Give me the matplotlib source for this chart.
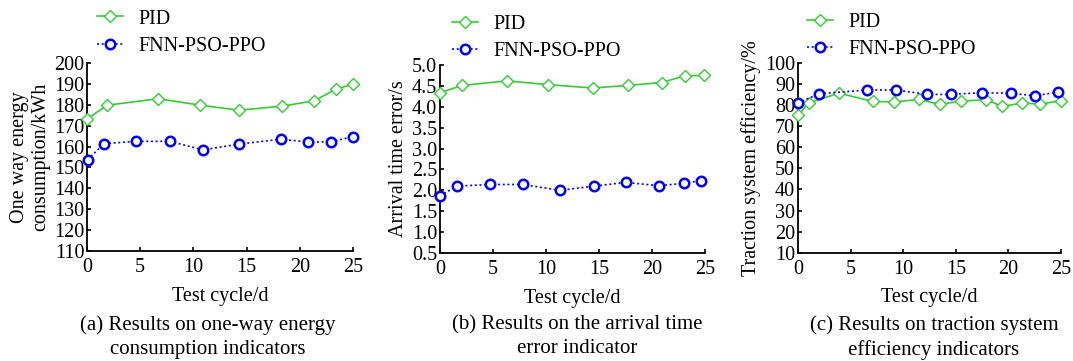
import matplotlib
matplotlib.use("Agg")
import matplotlib.pyplot as plt
import numpy as np

plt.rcParams['font.family'] = ['Liberation Serif', 'DejaVu Serif']
plt.rcParams['mathtext.fontset'] = 'stix'

# ---- data ----
series_names = ["PID", "FNN-PSO-PPO"]

a_pid_x = [0, 1.9, 6.7, 10.65, 14.3, 18.3, 21.35, 23.4, 25]
a_pid_y = [173.2, 179.8, 182.9, 179.8, 177.4, 179.3, 181.9, 187.5, 189.9]
a_fnn_x = [0.05, 1.6, 4.65, 7.8, 10.9, 14.3, 18.2, 20.8, 22.9, 25]
a_fnn_y = [153.7, 161.4, 162.5, 162.5, 158.4, 161.2, 163.5, 162.2, 162.2, 164.8]

b_pid_x = [0, 2.1, 6.3, 10.2, 14.4, 17.7, 20.9, 23.1, 24.9]
b_pid_y = [4.34, 4.51, 4.62, 4.53, 4.45, 4.51, 4.58, 4.74, 4.75]
b_fnn_x = [0, 1.6, 4.7, 7.8, 11.3, 14.5, 17.5, 20.7, 23.0, 24.6]
b_fnn_y = [1.87, 2.10, 2.14, 2.14, 2.00, 2.10, 2.19, 2.11, 2.17, 2.23]

c_pid_x = [0, 1.0, 3.9, 7.1, 9.1, 11.5, 13.5, 15.5, 17.9, 19.4, 21.3, 23.0, 25]
c_pid_y = [75.1, 81.0, 85.7, 81.8, 81.5, 82.7, 80.4, 81.9, 82.6, 79.4, 81.0, 80.5, 82.1]
c_fnn_x = [0, 2.0, 6.6, 9.3, 12.3, 14.5, 17.5, 20.2, 22.5, 24.7]
c_fnn_y = [81.0, 85.4, 87.2, 87.2, 85.1, 85.1, 85.9, 85.6, 84.5, 86.1]

xticks = [0, 5, 10, 15, 20, 25]
a_yticks = list(range(110, 201, 10))
b_yticks = [0.5, 1.0, 1.5, 2.0, 2.5, 3.0, 3.5, 4.0, 4.5, 5.0]
c_yticks = list(range(10, 101, 10))

ylabels = ["One way energy\nconsumption/kWh", "Arrival time error/s", "Traction system efficiency/%"]
xlabel = "Test cycle/d"
captions = ["(a) Results on one-way energy\nconsumption indicators",
            "(b) Results on the arrival time\nerror indicator",
            "(c) Results on traction system\nefficiency indicators"]

GREEN = "#33cc33"
BLUE = "#0000ff"
FS = 14.5
CFS = 15

W, H = 1073, 361
fig = plt.figure(figsize=(W / 100, H / 100), dpi=100)

boxes = [(87, 63, 353, 251), (440, 65, 705, 253), (798, 63, 1061, 252.7)]
panels = [
    (a_pid_x, a_pid_y, a_fnn_x, a_fnn_y, a_yticks, "%d"),
    (b_pid_x, b_pid_y, b_fnn_x, b_fnn_y, b_yticks, "%.1f"),
    (c_pid_x, c_pid_y, c_fnn_x, c_fnn_y, c_yticks, "%d"),
]
leg_x = [0.038, 0.045, 0.034]
leg_y = [1.285, 1.265, 1.265]
caption_cx = [208, 577, 934]
ylabelpads = [3, 3, 3]

for i, (box, pan) in enumerate(zip(boxes, panels)):
    l, t, r, b = box
    ax = fig.add_axes([l / W, 1 - b / H, (r - l) / W, (b - t) / H])
    px, py, fx, fy, yt, fmt = pan
    ax.plot(px, py, color=GREEN, lw=1.2, marker='D', markersize=6,
            markerfacecolor='white', markeredgecolor=GREEN, markeredgewidth=1.0,
            clip_on=False, zorder=3, label=series_names[0])
    ax.plot(fx, fy, color=BLUE, lw=1.2, ls=(0, (1.2, 1.6)), marker='o', markersize=6.8,
            markerfacecolor='white', markeredgecolor=BLUE, markeredgewidth=1.8,
            clip_on=False, zorder=3, label=series_names[1])
    ax.set_xlim(0, 25)
    ax.set_ylim(yt[0], yt[-1])
    ax.set_xticks(xticks)
    ax.set_yticks(yt)
    ax.set_yticklabels([fmt % v for v in yt])
    for s in ['top', 'right']:
        ax.spines[s].set_visible(False)
    for s in ['left', 'bottom']:
        ax.spines[s].set_linewidth(1.3)
    ax.tick_params(direction='in', length=3, width=1.2, labelsize=FS, pad=2)
    ax.tick_params(axis='x', pad=5)
    ax.set_xlabel(xlabel, fontsize=FS, labelpad=7)
    ax.set_ylabel(ylabels[i], fontsize=FS, labelpad=ylabelpads[i], linespacing=1.15)
    leg = ax.legend(loc='upper left', bbox_to_anchor=(leg_x[i], leg_y[i]), frameon=False,
                    fontsize=FS, handlelength=1.3, handletextpad=0.75, borderpad=0,
                    borderaxespad=0, labelspacing=0.4, numpoints=1)
    fig.text(caption_cx[i] / W, 1 - 315 / H, captions[i], ha='center', va='top',
             fontsize=CFS, linespacing=1.35)

fig.savefig("out.png", dpi=100)
